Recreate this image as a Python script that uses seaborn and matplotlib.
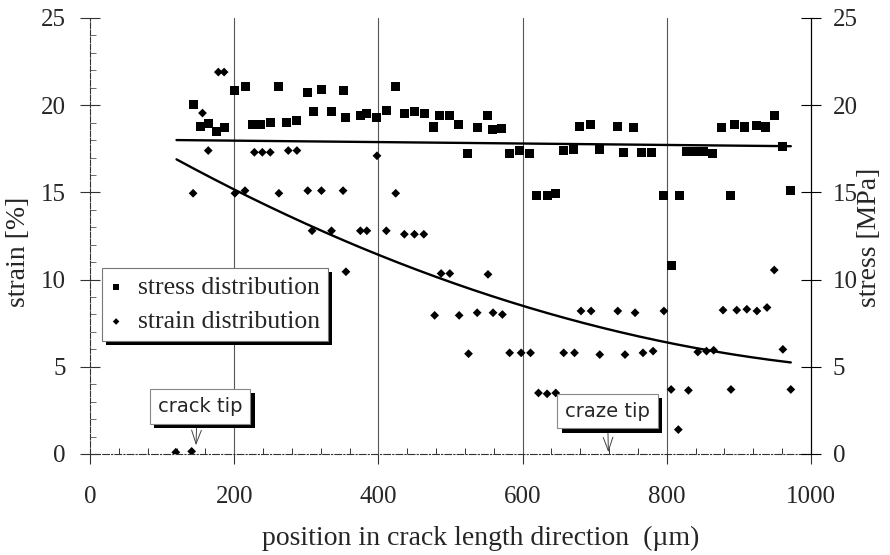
import numpy as np
import pandas as pd
import matplotlib
matplotlib.use("Agg")
import matplotlib.pyplot as plt
import matplotlib.patheffects as pe
from matplotlib.ticker import MultipleLocator, FixedLocator
import seaborn as sns

# measured stress values along the crack (position in µm, stress in MPa)
stress_x = [143, 153, 164, 175, 187, 200, 215, 226, 237, 250, 262, 273, 287, 302, 310,
            321, 335, 351, 355, 375, 384, 398, 411, 424, 436, 450, 464, 477, 485, 498,
            511, 524, 537, 551, 558, 571, 582, 596, 610, 619, 634, 646, 657, 671, 679,
            694, 707, 731, 740, 754, 765, 779, 796, 806, 817, 828, 840, 851, 864, 876,
            889, 894, 908, 924, 937, 949, 960, 972]
stress_y = [20.05, 18.8, 18.95, 18.5, 18.7, 20.85, 21.1, 18.9, 18.9, 19.0, 21.05, 19.0, 19.1, 20.75, 19.65,
            20.9, 19.65, 20.85, 19.3, 19.4, 19.55, 19.3, 19.7, 21.05, 19.55, 19.65, 19.5, 18.75, 19.4, 19.4,
            18.9, 17.25, 18.7, 19.4, 18.6, 18.65, 17.25, 17.4, 17.25, 14.85, 14.8, 14.95, 17.4, 17.45, 18.8,
            18.9, 17.45, 18.8, 17.3, 18.7, 17.3, 17.3, 14.8, 10.8, 14.85, 17.35, 17.35, 17.35, 17.25, 18.7,
            14.8, 18.9, 18.75, 18.85, 18.75, 19.4, 17.65, 15.1]

# measured strain values along the crack (position in µm, strain in %)
strain_x = [119, 141, 143, 156, 164, 178, 186, 201, 215, 228, 239, 250, 262, 275, 287,
            302, 308, 321, 335, 351, 355, 375, 384, 398, 411, 424, 436, 450, 463, 478,
            487, 499, 512, 525, 537, 552, 559, 572, 582, 598, 611, 622, 634, 646, 657,
            672, 681, 695, 707, 732, 742, 756, 767, 781, 796, 806, 816, 830, 843, 855,
            865, 878, 889, 897, 911, 925, 939, 949, 961, 972]
strain_y = [0.1, 0.15, 14.95, 19.55, 17.4, 21.9, 21.9, 14.95, 15.1, 17.3, 17.3, 17.3, 14.95, 17.4, 17.4,
            15.1, 12.8, 15.1, 12.8, 15.1, 10.45, 12.8, 12.8, 17.1, 12.8, 14.95, 12.6, 12.6, 12.6, 7.95,
            10.35, 10.35, 7.95, 5.75, 8.1, 10.3, 8.1, 8.0, 5.8, 5.8, 5.8, 3.5, 3.45, 3.5, 5.8,
            5.8, 8.2, 8.2, 5.7, 8.2, 5.7, 8.1, 5.8, 5.9, 8.2, 3.7, 1.4, 3.65, 5.85, 5.9,
            5.95, 8.25, 3.7, 8.25, 8.3, 8.2, 8.4, 10.55, 6.0, 3.7]

# trend lines: linear for stress, quadratic for strain (coefficients, low order first)
stress_fit = [18.05, -0.000412]
strain_fit = [19.733, -0.024887, 1.0274e-5]
fit_range = [120, 972]

x_ticks = [0, 200, 400, 600, 800, 1000]
y_ticks = [0, 5, 10, 15, 20, 25]

sns.set_theme(style="white")
serif = ["Liberation Serif", "DejaVu Serif"]
plt.rcParams["font.family"] = serif

fig = plt.figure(figsize=(8.9, 5.55), dpi=100)
ax = fig.add_axes([90 / 890, 101 / 555, 721 / 890, 436 / 555])

stress_df = pd.DataFrame({"x": stress_x, "y": stress_y})
strain_df = pd.DataFrame({"x": strain_x, "y": strain_y})

# vertical grid lines at the inner major ticks
for gx in x_ticks[1:-1]:
    ax.axvline(gx, color="#555555", lw=0.8, zorder=0)

sns.scatterplot(data=stress_df, x="x", y="y", marker="s", s=42, color="black",
                edgecolor="none", label="stress distribution", ax=ax, zorder=3)
sns.scatterplot(data=strain_df, x="x", y="y", marker="D", s=20, color="black",
                edgecolor="none", label="strain distribution", ax=ax, zorder=3)

xf = np.linspace(fit_range[0], fit_range[1], 200)
stress_curve = np.polynomial.polynomial.polyval(xf, stress_fit)
strain_curve = np.polynomial.polynomial.polyval(xf, strain_fit)
sns.lineplot(x=xf, y=stress_curve, color="black", lw=1.7, ax=ax, zorder=2)
sns.lineplot(x=xf, y=strain_curve, color="black", lw=1.7, ax=ax, zorder=2)

ax.set_xlim(0, 1000)
ax.set_ylim(0, 25)
ax.set_xlabel("")
ax.set_ylabel("")
ax.set_xticks(x_ticks)
ax.set_yticks(y_ticks)
ax.xaxis.set_minor_locator(FixedLocator([v for v in range(40, 1000, 40) if v % 200]))
ax.yaxis.set_minor_locator(MultipleLocator(1))

ax.spines["top"].set_visible(False)
ax.spines["left"].set_color("#333333")
ax.spines["left"].set_linewidth(0.8)
ax.spines["left"].set_linestyle((0, (5, 1.5)))
ax.spines["bottom"].set_color("#333333")
ax.spines["bottom"].set_linewidth(0.8)
ax.spines["bottom"].set_linestyle((0, (6, 2, 1, 2)))
ax.spines["right"].set_color("black")
ax.spines["right"].set_linewidth(0.9)

ax.tick_params(axis="x", which="major", direction="out", length=7, width=0.8,
               color="#333333", pad=16, labelsize=18, bottom=True)
ax.tick_params(axis="x", which="minor", direction="in", length=4, width=0.7,
               color="#333333", bottom=True)
ax.tick_params(axis="y", which="major", direction="inout", length=15, width=0.8,
               color="#333333", pad=10, labelsize=18, left=True)
ax.tick_params(axis="y", which="minor", direction="in", length=4, width=0.6,
               color="#555555", left=True)

ax2 = ax.twinx()
ax2.set_ylim(0, 25)
ax2.set_yticks(y_ticks)
ax2.tick_params(axis="y", which="major", direction="inout", length=15, width=0.8,
                color="black", pad=8, labelsize=18, right=True)
for side in ["top", "left", "bottom", "right"]:
    ax2.spines[side].set_visible(False)

# axis titles
fig.text(481 / 890, 1 - 538 / 555, "position in crack length direction  (\u00b5m)",
         ha="center", va="center", fontsize=20)
fig.text(19 / 890, 1 - 252 / 555, "strain [%]", rotation=90,
         ha="center", va="center", fontsize=20)
fig.text(869 / 890, 1 - 237 / 555, "stress [MPa]", rotation=90,
         ha="center", va="center", fontsize=20)

shadow = [pe.SimplePatchShadow(offset=(3, -3), shadow_rgbFace="black", alpha=1.0), pe.Normal()]

leg = ax.legend(loc="upper left", bbox_to_anchor=(0.0166, 0.4266), borderaxespad=0,
                fontsize=18.5, frameon=True, fancybox=False, markerscale=0.75,
                handlelength=0.5, handletextpad=0.6, borderpad=0.3, labelspacing=0.45)
frame = leg.get_frame()
frame.set_edgecolor("#777777")
frame.set_linewidth(0.8)
frame.set_facecolor("white")
frame.set_alpha(1)
frame.set_path_effects(shadow)
leg.set_zorder(5)

sans = ["DejaVu Sans"]
tip_arrow = dict(arrowstyle="->,head_length=0.7,head_width=0.25", color="#444444",
                 lw=0.7, shrinkA=0, shrinkB=0)

t1 = ax.annotate("crack tip", xy=(147, 0.5), xytext=(153, 2.72), ha="center", va="center",
                 fontsize=14, family=sans,
                 bbox=dict(boxstyle="square,pad=0.4", fc="white", ec="#888888", lw=0.8),
                 arrowprops=dict(tip_arrow, relpos=(0.46, 0)), zorder=6)
t1.get_bbox_patch().set_path_effects(shadow)

t2 = ax.annotate("craze tip", xy=(719, 0.1), xytext=(718, 2.46), ha="center", va="center",
                 fontsize=14, family=sans,
                 bbox=dict(boxstyle="square,pad=0.4", fc="white", ec="#888888", lw=0.8),
                 arrowprops=dict(tip_arrow, relpos=(0.5, 0)), zorder=6)
t2.get_bbox_patch().set_path_effects(shadow)

fig.savefig("out.png", dpi=100, facecolor="white")
